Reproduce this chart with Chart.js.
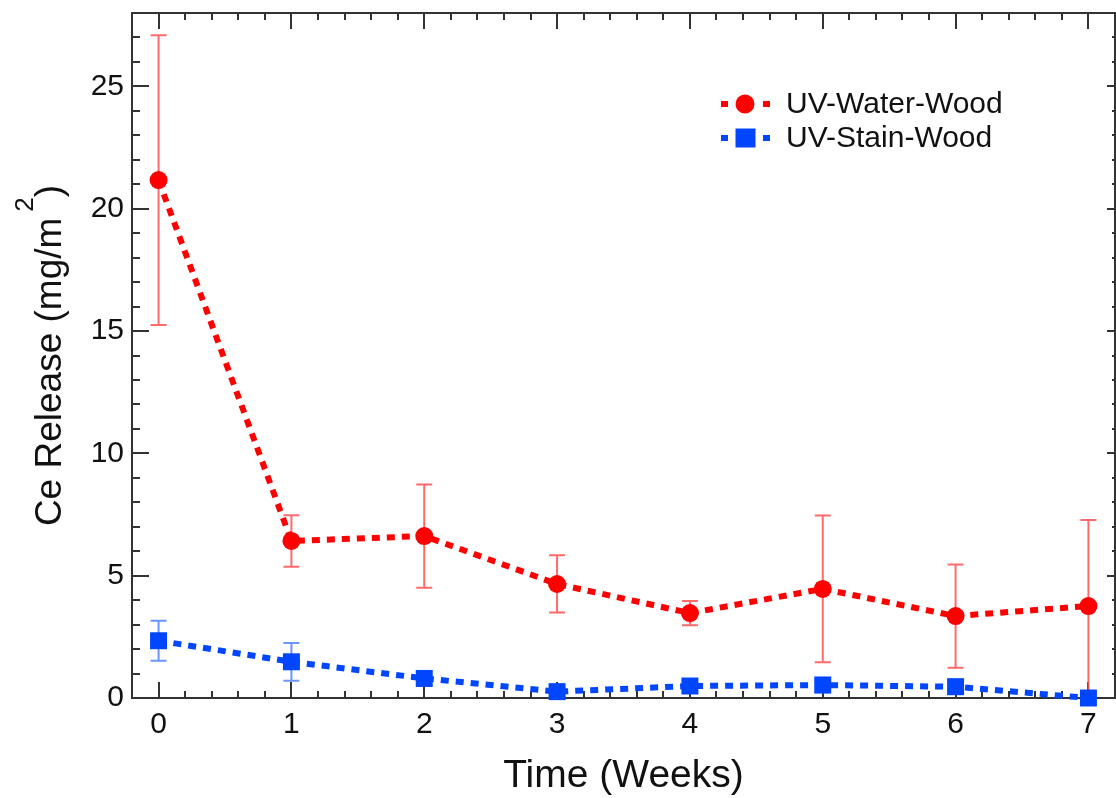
<!DOCTYPE html>
<html>
<head>
<meta charset="utf-8">
<script src="https://cdn.jsdelivr.net/npm/chart.js@4.4.1/dist/chart.umd.min.js"></script>
<style>
  html, body { margin: 0; padding: 0; background: #fff; }
  #wrap { width: 1116px; height: 798px; }
</style>
</head>
<body>
<div id="wrap"><canvas id="chart" width="1116" height="798"></canvas></div>
<script>
// data
const weeks = [0, 1, 2, 3, 4, 5, 6, 7];
const waterMean = [21.17, 6.42, 6.62, 4.66, 3.47, 4.46, 3.35, 3.76];
const waterErr = [5.92, 1.05, 2.11, 1.17, 0.5, 3.0, 2.11, 3.52];
const stainMean = [2.34, 1.48, 0.80, 0.26, 0.49, 0.53, 0.46, 0.0];
const stainErr = [0.82, 0.77, 0.3, 0.2, 0.25, 0.3, 0.3, 0.0];
const xTicks = [0, 1, 2, 3, 4, 5, 6, 7];
const yTicks = [0, 5, 10, 15, 20, 25];
const seriesNames = ['UV-Water-Wood', 'UV-Stain-Wood'];

const RED = '#ff0000';
const BLUE = '#0046ff';
const FONT = '"Liberation Sans", Arial, sans-serif';

function toPoints(xs, ys) {
    return xs.map((x, i) => ({ x, y: ys[i] }));
}

// error bars, under the lines and markers
const errorBars = {
    id: 'errorBars',
    beforeDatasetsDraw(chart) {
        const { ctx, scales: { x, y } } = chart;
        const sets = [
            { mean: waterMean, err: waterErr, color: 'rgba(255,80,80,0.85)' },
            { mean: stainMean, err: stainErr, color: 'rgba(80,130,255,0.85)' },
        ];
        ctx.save();
        ctx.lineWidth = 2;
        sets.forEach(s => {
            ctx.strokeStyle = s.color;
            weeks.forEach((w, i) => {
                if (!s.err[i]) return;
                const px = x.getPixelForValue(w);
                const top = y.getPixelForValue(s.mean[i] + s.err[i]);
                const bot = y.getPixelForValue(Math.max(0, s.mean[i] - s.err[i]));
                ctx.beginPath();
                ctx.moveTo(px, top); ctx.lineTo(px, bot);
                ctx.moveTo(px - 8, top); ctx.lineTo(px + 8, top);
                if (s.mean[i] - s.err[i] > 0) {
                    ctx.moveTo(px - 8, bot); ctx.lineTo(px + 8, bot);
                }
                ctx.stroke();
            });
        });
        ctx.restore();
    }
};

// box frame with inward ticks on all four sides
const frame = {
    id: 'frame',
    beforeDatasetsDraw(chart) {
        const { ctx, chartArea: a, scales: { x, y } } = chart;
        ctx.save();
        ctx.strokeStyle = '#333';
        ctx.lineWidth = 2;
        ctx.strokeRect(a.left, a.top, a.right - a.left, a.bottom - a.top);
        ctx.beginPath();
        for (let v = -0.2; v <= 7.2001; v += 0.2) {
            const px = Math.round(x.getPixelForValue(v));
            const major = Math.abs(v - Math.round(v)) < 1e-6;
            const len = major ? 16 : 7;
            ctx.moveTo(px, a.bottom); ctx.lineTo(px, a.bottom - len);
            ctx.moveTo(px, a.top); ctx.lineTo(px, a.top + len);
        }
        for (let v = 0; v <= 28; v += 1) {
            const py = Math.round(y.getPixelForValue(v));
            const major = v % 5 === 0;
            ctx.moveTo(a.left, py); ctx.lineTo(a.left + (major ? 17 : 8), py);
            ctx.moveTo(a.right, py); ctx.lineTo(a.right - (major ? 8 : 3), py);
        }
        ctx.stroke();
        ctx.restore();
    }
};

// axis titles and legend
const labels = {
    id: 'labels',
    afterDraw(chart) {
        const { ctx, chartArea: a } = chart;
        ctx.save();
        ctx.fillStyle = '#111';

        // x title
        ctx.font = '39px ' + FONT;
        ctx.textAlign = 'center';
        ctx.textBaseline = 'alphabetic';
        ctx.fillText('Time (Weeks)', (a.left + a.right) / 2, 787);

        // y title with superscript
        const main = 'Ce Release (mg/m';
        ctx.font = '37px ' + FONT;
        const w1 = ctx.measureText(main).width;
        const w3 = ctx.measureText(')').width;
        ctx.font = '26px ' + FONT;
        const w2 = ctx.measureText('2').width;
        const gap = 6;
        const total = w1 + gap + w2 + w3;
        ctx.translate(61, (a.top + a.bottom) / 2);
        ctx.rotate(-Math.PI / 2);
        ctx.textAlign = 'left';
        let sx = -total / 2;
        ctx.font = '37px ' + FONT;
        ctx.fillText(main, sx, 0);
        sx += w1 + gap;
        ctx.font = '26px ' + FONT;
        ctx.fillText('2', sx, -28);
        sx += w2;
        ctx.font = '37px ' + FONT;
        ctx.fillText(')', sx, 0);
        ctx.setTransform(1, 0, 0, 1, 0, 0);

        // legend
        const rows = [
            { name: seriesNames[0], color: RED, y: 104, shape: 'circle' },
            { name: seriesNames[1], color: BLUE, y: 138, shape: 'square' },
        ];
        rows.forEach(r => {
            ctx.fillStyle = r.color;
            ctx.fillRect(721, r.y - 3, 7, 6);
            ctx.fillRect(763, r.y - 3, 7, 6);
            ctx.beginPath();
            if (r.shape === 'circle') {
                ctx.arc(745, r.y, 9.5, 0, Math.PI * 2);
            } else {
                ctx.rect(735.5, r.y - 9.5, 20, 19);
            }
            ctx.fill();
            ctx.fillStyle = '#111';
            ctx.font = '30px ' + FONT;
            ctx.textAlign = 'left';
            ctx.textBaseline = 'middle';
            ctx.fillText(r.name, 786, r.y + 1);
        });
        ctx.restore();
    }
};

new Chart(document.getElementById('chart'), {
    type: 'line',
    data: {
        datasets: [
            {
                label: seriesNames[0],
                data: toPoints(weeks, waterMean),
                borderColor: RED,
                backgroundColor: RED,
                borderWidth: 6,
                borderDash: [8, 7],
                pointStyle: 'circle',
                pointRadius: 9,
                pointHoverRadius: 9,
                pointBorderWidth: 0,
                tension: 0,
            },
            {
                label: seriesNames[1],
                data: toPoints(weeks, stainMean),
                borderColor: BLUE,
                backgroundColor: BLUE,
                borderWidth: 6,
                borderDash: [8, 7],
                pointStyle: 'rect',
                pointRadius: 12,
                pointHoverRadius: 12,
                pointBorderWidth: 0,
                tension: 0,
            },
        ],
    },
    options: {
        responsive: false,
        animation: false,
        clip: false,
        layout: { autoPadding: false, padding: { top: 13, right: 1, left: 0, bottom: 0 } },
        scales: {
            x: {
                type: 'linear',
                min: -0.2,
                max: 7.2,
                grid: { display: false, drawTicks: false },
                border: { display: false },
                afterBuildTicks: s => { s.ticks = xTicks.map(v => ({ value: v })); },
                afterFit: s => { s.height = 100; s.paddingLeft = 0; s.paddingRight = 0; },
                ticks: {
                    color: '#111',
                    font: { family: FONT, size: 30 },
                    padding: 9,
                    maxRotation: 0,
                },
            },
            y: {
                min: 0,
                max: 28,
                grid: { display: false, drawTicks: false },
                border: { display: false },
                afterBuildTicks: s => { s.ticks = yTicks.map(v => ({ value: v })); },
                afterFit: s => { s.width = 132; s.paddingTop = 0; s.paddingBottom = 0; },
                ticks: {
                    color: '#111',
                    font: { family: FONT, size: 30 },
                    padding: 8,
                },
            },
        },
        plugins: {
            legend: { display: false },
            tooltip: { enabled: false },
        },
    },
    plugins: [frame, errorBars, labels],
});
</script>
</body>
</html>
